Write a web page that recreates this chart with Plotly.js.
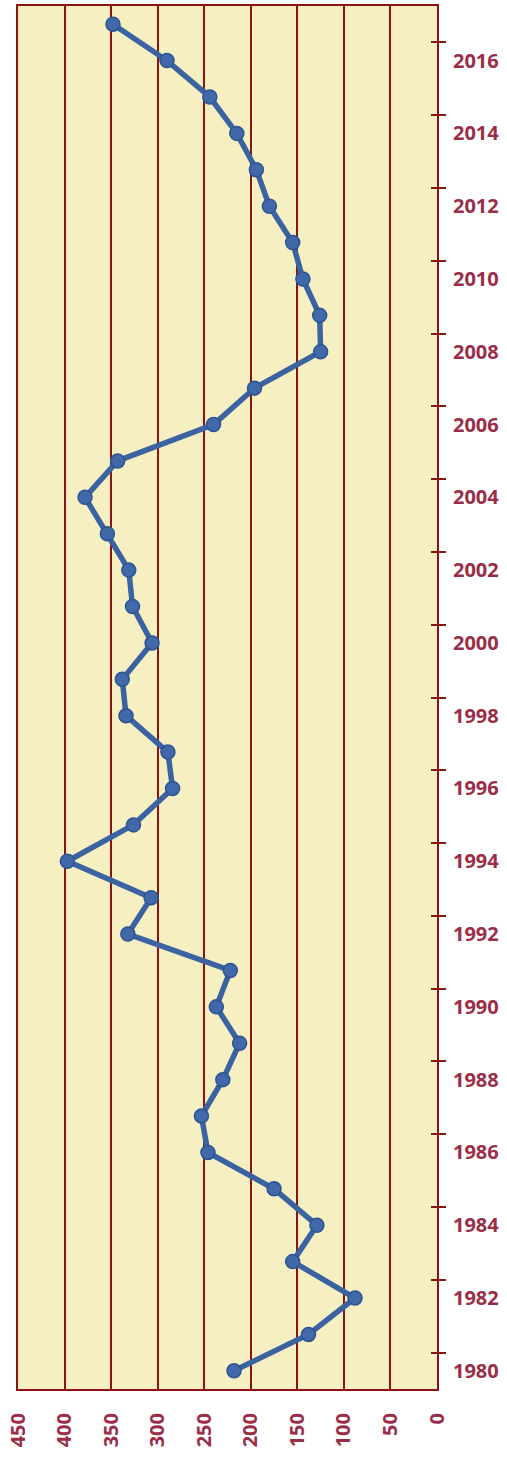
<!DOCTYPE html>
<html>
<head>
<meta charset="utf-8">
<script src="https://cdn.plot.ly/plotly-3.0.1.min.js"></script>
<style>html,body{margin:0;padding:0;background:#fff;}#chart{width:507px;height:1458px;}</style>
</head>
<body>
<div id="chart"></div>
<script>
const years = [1980,1981,1982,1983,1984,1985,1986,1987,1988,1989,1990,1991,1992,1993,1994,1995,1996,1997,1998,1999,2000,2001,2002,2003,2004,2005,2006,2007,2008,2009,2010,2011,2012,2013,2014,2015,2016,2017];
const values = [218,138,88,155,129,175,246,253,230,212,237,222,332,307,397,326,284,289,334,338,306,327,331,354,378,343,240,196,125,126,144,155,180,194,215,244,290,348];
const valueTicks = [450,400,350,300,250,200,150,100,50,0];
const yearLabels = years.filter(y => y % 2 === 0);
const bandEdges = yearLabels.map(y => y + 0.5);

const red = '#8a1414';
const textRed = '#9a2e48';
const tickFont = {family: 'Open Sans, Liberation Sans, sans-serif', size: 20, color: textRed, weight: 'bold'};

const data = [
  {
    x: values, y: years, type: 'scatter', mode: 'lines+markers',
    line: {color: '#3b63a2', width: 5.5},
    marker: {size: 14, color: '#4169a9', line: {color: '#2d5592', width: 1.5}},
    showlegend: false, hoverinfo: 'x+y'
  },
  {x: [null], y: [null], yaxis: 'y2', type: 'scatter', mode: 'markers', showlegend: false, hoverinfo: 'skip'}
];

const layout = {
  width: 507, height: 1458,
  margin: {l: 18, r: 70, t: 6, b: 69, pad: 0},
  paper_bgcolor: '#ffffff',
  plot_bgcolor: '#f5efc2',
  xaxis: {
    range: [450, 0], tickvals: valueTicks, ticktext: valueTicks.map(String),
    tickangle: -90, ticks: '', showgrid: true, gridcolor: red, gridwidth: 2,
    zeroline: false, showline: true, linecolor: red, linewidth: 2, mirror: true,
    tickfont: tickFont, ticklabelstandoff: 14
  },
  yaxis: {
    range: [1979.5, 2017.5], side: 'right', tickvals: yearLabels, ticktext: yearLabels.map(String),
    ticks: '', showgrid: false, zeroline: false,
    showline: true, linecolor: red, linewidth: 2, mirror: true,
    tickfont: tickFont, ticklabelstandoff: 10,
    minor: {tickvals: bandEdges, ticks: 'outside', ticklen: 7, tickwidth: 2, tickcolor: red, showgrid: false}
  },
  yaxis2: {
    range: [1979.5, 2017.5], overlaying: 'y', side: 'right', anchor: 'x', tickvals: bandEdges,
    ticks: 'inside', ticklen: 6, tickwidth: 2, tickcolor: red,
    showticklabels: false, showgrid: false, zeroline: false, showline: false
  }
};

Plotly.newPlot('chart', data, layout, {displayModeBar: false, staticPlot: true});
</script>
</body>
</html>
